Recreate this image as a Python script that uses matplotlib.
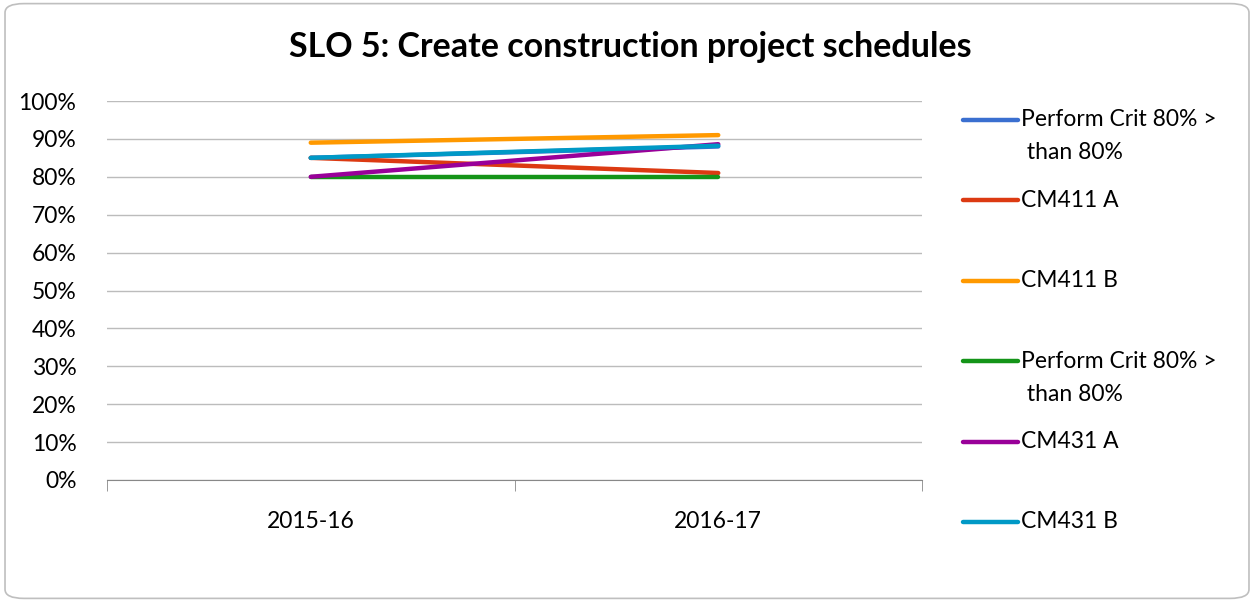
import matplotlib.pyplot as plt
from matplotlib.lines import Line2D
from matplotlib.patches import FancyBboxPatch

plt.rcParams['font.family'] = ['Lato', 'DejaVu Sans']

years = ['2015-16', '2016-17']
series_names = ['Perform Crit 80% >\n than 80%', 'CM411 A', 'CM411 B',
                'Perform Crit 80% >\n than 80%', 'CM431 A', 'CM431 B']
series_values = [
    [85, 88],
    [85, 81],
    [89, 91],
    [80, 80],
    [80, 88.6],
    [85, 88.2],
]
colors = ['#3a6fd0', '#dc3a12', '#ff9900', '#149418', '#990099', '#0099c6']
y_ticks = list(range(0, 101, 10))

fig = plt.figure(figsize=(12.54, 6.02), dpi=100)
ax = fig.add_axes([107 / 1254, 1 - 480 / 602, (922 - 107) / 1254, (480 - 101) / 602])

# chart border
fig.patches.append(FancyBboxPatch((0.004, 0.006), 0.992, 0.988,
                                  boxstyle='round,pad=0,rounding_size=0.015',
                                  transform=fig.transFigure, fc='white',
                                  ec='#bfbfbf', lw=1.2, zorder=-1))

xpos = [0.5, 1.5]
for vals, c in zip(series_values, colors):
    ax.plot(xpos, vals, color=c, lw=3.2, solid_capstyle='round')

fs = 16.5
ax.set_xlim(0, 2)
ax.set_ylim(0, 100)
ax.set_yticks(y_ticks)
ax.set_yticklabels([f'{t}%' for t in y_ticks], fontsize=fs)
ax.set_xticks(xpos)
ax.set_xticklabels(years, fontsize=fs)
ax.tick_params(axis='y', length=0, pad=22)
ax.tick_params(axis='x', length=0, pad=22)
ax.set_xticks([0, 1, 2], minor=True)
ax.tick_params(axis='x', which='minor', length=8, direction='out', color='#888888')
ax.grid(axis='y', color='#bcbcbc', lw=1)
ax.set_axisbelow(True)
for s in ['top', 'right', 'left']:
    ax.spines[s].set_visible(False)
ax.spines['bottom'].set_color('#888888')
ax.patch.set_alpha(0)

fig.text(0.503, 0.922, 'SLO 5: Create construction project schedules',
         ha='center', va='center', fontsize=24.5, fontweight='bold')

# legend on the right
top = 1 - 120 / 602
step = 80.4 / 602
for i, (name, c) in enumerate(zip(series_names, colors)):
    y = top - i * step
    fig.add_artist(Line2D([963 / 1254, 1018 / 1254], [y, y], color=c, lw=3.2,
                          solid_capstyle='round', transform=fig.transFigure))
    lines = name.split('\n')
    fig.text(1021 / 1254, y, lines[0], ha='left', va='center', fontsize=fs)
    if len(lines) > 1:
        fig.text(1021 / 1254, y - 33 / 602, lines[1], ha='left', va='center', fontsize=fs)

plt.savefig('out.png', dpi=100)
